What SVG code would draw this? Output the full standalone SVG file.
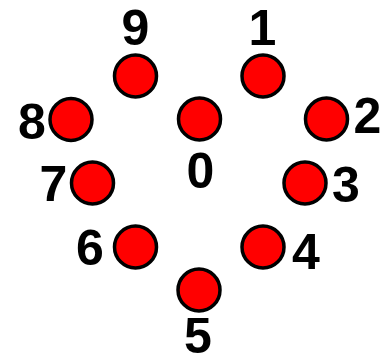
<svg xmlns="http://www.w3.org/2000/svg" width="392" height="359" viewBox="0 0 392 359">
<style>
.n{fill:#ff0000;stroke:#000;stroke-width:3.5}
.t{font-family:"Liberation Sans",Arial,sans-serif;font-weight:bold;font-size:50px;fill:#000;text-anchor:middle}
</style>
<rect width="392" height="359" fill="#fff"/>
<g id="connectors"/>
<g id="n9"><circle class="n" cx="135.5" cy="76" r="21"/><text class="t" x="135.5" y="45">9</text></g>
<g id="n1"><circle class="n" cx="263" cy="76" r="21"/><text class="t" x="262.5" y="45">1</text></g>
<g id="n8"><circle class="n" cx="71" cy="119.5" r="21"/><text class="t" x="32" y="139">8</text></g>
<g id="n0"><circle class="n" cx="199.5" cy="119" r="21"/><text class="t" x="200.5" y="188">0</text></g>
<g id="n2"><circle class="n" cx="326.5" cy="119" r="21"/><text class="t" x="367.5" y="133">2</text></g>
<g id="n7"><circle class="n" cx="92.5" cy="183" r="21"/><text class="t" x="53.5" y="201">7</text></g>
<g id="n3"><circle class="n" cx="305" cy="183" r="21"/><text class="t" x="346" y="202">3</text></g>
<g id="n6"><circle class="n" cx="135.5" cy="247" r="21"/><text class="t" x="90" y="265">6</text></g>
<g id="n4"><circle class="n" cx="263" cy="247" r="21"/><text class="t" x="306" y="269">4</text></g>
<g id="n5"><circle class="n" cx="199" cy="290" r="21"/><text class="t" x="198" y="353">5</text></g>
</svg>
